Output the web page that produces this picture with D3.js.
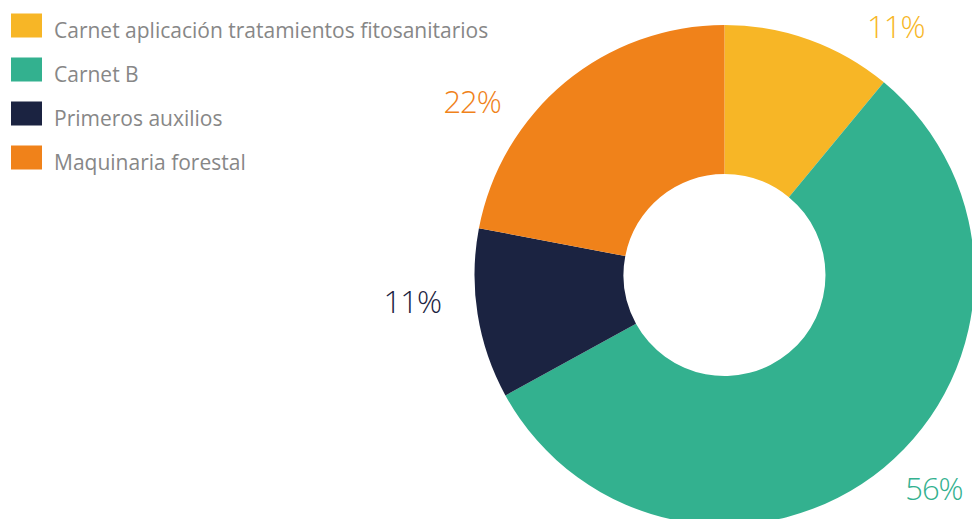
<!DOCTYPE html>
<html>
<head>
<meta charset="utf-8">
<script src="https://cdn.jsdelivr.net/npm/d3@7"></script>
<style>
  html, body { margin: 0; padding: 0; background: #fff; }
  svg { display: block; }
</style>
</head>
<body>
<svg id="chart" width="972" height="519"></svg>
<script>
// Course categories and their shares (percent)
const categories = [
  "Carnet aplicación tratamientos fitosanitarios",
  "Carnet B",
  "Primeros auxilios",
  "Maquinaria forestal"
];
const shares = [11, 56, 11, 22];
const colors = ["#F7B626", "#33B18F", "#1B2341", "#F0821A"];

// Label offsets from the slice centroid, keeping labels clear of the legend and page edges
const labelNudge = [[68, 38], [15, -22], [-11, -22], [-58, 61]];

const width = 972, height = 519;
const cx = 724.5, cy = 275;
const outerR = 250, innerR = 101;
const labelR = 305;

const svg = d3.select("#chart");
const data = categories.map((c, i) => ({ category: c, value: shares[i], color: colors[i] }));

const pie = d3.pie().value(d => d.value).sort(null);
const arcs = pie(data);
const arc = d3.arc().innerRadius(innerR).outerRadius(outerR);
const labelArc = d3.arc().innerRadius(labelR).outerRadius(labelR);

const g = svg.append("g").attr("transform", `translate(${cx},${cy})`);

g.selectAll("path.slice")
  .data(arcs)
  .join("path")
  .attr("class", "slice")
  .attr("d", arc)
  .attr("fill", d => d.data.color);

g.selectAll("text.pct")
  .data(arcs)
  .join("text")
  .attr("class", "pct")
  .attr("x", (d, i) => labelArc.centroid(d)[0] + labelNudge[i][0])
  .attr("y", (d, i) => labelArc.centroid(d)[1] + labelNudge[i][1])
  .attr("text-anchor", "middle")
  .attr("dominant-baseline", "central")
  .attr("font-family", "'Open Sans', sans-serif")
  .attr("font-weight", 300)
  .attr("font-size", 31)
  .attr("letter-spacing", -1)
  .attr("fill", d => d.data.color)
  .text(d => d.data.value + "%");

// Legend
const legend = svg.append("g").attr("transform", "translate(11,0)");
const rowY = d3.scalePoint().domain(categories).range([37.5, 169.5]);

const rows = legend.selectAll("g.row")
  .data(data)
  .join("g")
  .attr("class", "row")
  .attr("transform", d => `translate(0,${rowY(d.category)})`);

rows.append("rect")
  .attr("x", 0)
  .attr("y", -24)
  .attr("width", 31)
  .attr("height", 24)
  .attr("fill", d => d.color);

rows.append("text")
  .attr("x", 43)
  .attr("y", 0)
  .attr("font-family", "'Open Sans', sans-serif")
  .attr("font-size", 21)
  .attr("fill", "#878787")
  .text(d => d.category);
</script>
</body>
</html>
